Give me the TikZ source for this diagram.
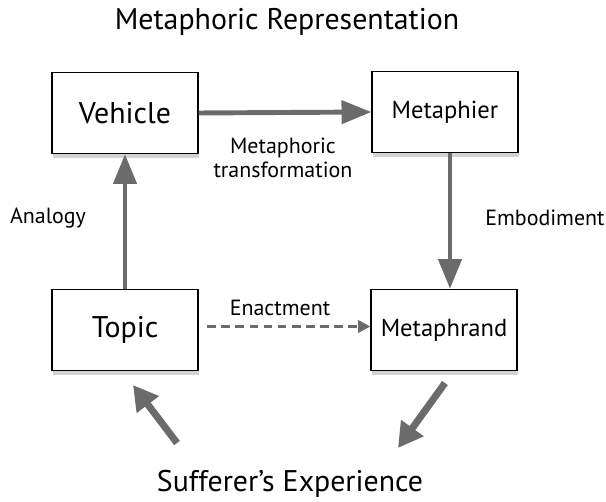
\documentclass[tikz,border=0pt]{standalone}
\usepackage{fontspec}
\setmainfont{PT Sans}
\usetikzlibrary{arrows.meta, positioning, shadows}
\definecolor{arrowgray}{HTML}{6B6B6B}
\tikzset{
  concept/.style={draw, fill=white, line width=0.7pt, minimum width=2.92cm, minimum height=1.62cm,
    drop shadow={shadow xshift=0.5pt, shadow yshift=-2.5pt, opacity=0.35}},
  bigarrow/.style={draw=arrowgray, line width=2.8pt, -{Triangle[length=17pt, width=13pt]}},
  diagarrow/.style={draw=arrowgray, line width=4pt, -{Triangle[length=14pt, width=15pt]}},
  dasharrow/.style={draw=arrowgray, line width=1.6pt, dash pattern=on 5pt off 3pt, -{Triangle[length=7pt, width=7pt]}},
  lbl/.style={font=\fontsize{12.5}{14}\selectfont, align=center}
}
\begin{document}
\begin{tikzpicture}[x=0.02cm, y=-0.02cm]
  \useasboundingbox (0,0) rectangle (606,502);

  % Boxes
  \node[concept, font=\fontsize{17}{19}\selectfont] (vehicle) at (125,113) {Vehicle};
  \node[concept, font=\fontsize{14}{16}\selectfont] (metaphier) at (445,112) {Metaphier};
  \node[concept, font=\fontsize{17}{19}\selectfont] (topic) at (125,330) {Topic};
  \node[concept, font=\fontsize{14}{16}\selectfont] (metaphrand) at (444,330) {Metaphrand};

  % Titles
  \node[font=\fontsize{17}{19}\selectfont] (representation) at (287,22) {Metaphoric Representation};
  \node[font=\fontsize{17}{19}\selectfont] (experience) at (290,484) {Sufferer’s Experience};

  % Labels
  \node[lbl] (transformation) at (283,158) {Metaphoric\\transformation};
  \node[lbl] (analogy) at (48,218) {Analogy};
  \node[lbl] (embodiment) at (545,218) {Embodiment};
  \node[lbl] (enactment) at (280,308) {Enactment};

  % Free ends
  \coordinate (expleft) at (177,443);
  \coordinate (topicin) at (133,385);
  \coordinate (phrandout) at (445,383);
  \coordinate (expright) at (398,448);

  % Arrows
  \draw[bigarrow] (vehicle.east) -- (metaphier.west);
  \draw[bigarrow] (topic.north) -- (vehicle.south);
  \draw[bigarrow] (metaphier.south -| 450,0) -- (metaphrand.north -| 450,0);
  \draw[dasharrow] ([xshift=5pt,yshift=2pt]topic.east) -- ([yshift=2pt]metaphrand.west);
  \draw[diagarrow] (expleft) -- (topicin);
  \draw[diagarrow] (phrandout) -- (expright);
\end{tikzpicture}
\end{document}
